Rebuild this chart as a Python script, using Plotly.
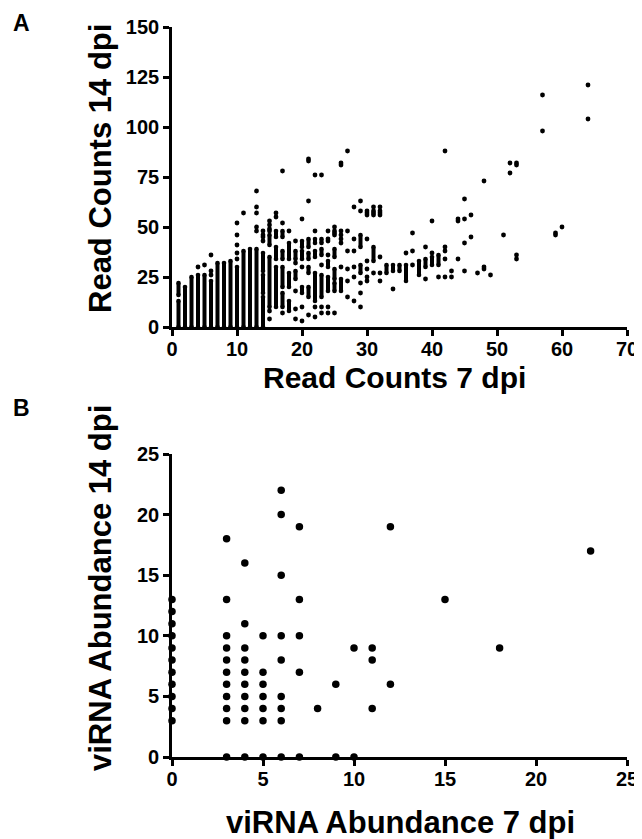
import plotly.graph_objects as go

# ---------------- Panel A data (Read counts) ----------------
# solid vertical runs of stacked integer-valued points: x, low, high
A_seg_x  = [1, 1, 2, 3, 4, 5, 6, 7, 8, 9, 10, 11, 12, 13, 14, 14, 14,
            15, 15, 16, 16, 16, 17, 17, 17, 17, 18, 18, 18, 19, 19, 20, 20, 20,
            21, 21, 21, 21, 22, 22, 22, 23, 23, 23, 24, 24, 25, 25, 25, 26,
            29, 29, 31, 33, 34, 35, 36, 38, 39, 40, 41]
A_seg_lo = [0, 16, 0, 0, 0, 0, 0, 0, 0, 0, 0, 0, 0, 0, 0, 17, 28,
            10, 41, 10, 34, 45, 10, 20, 34, 45, 8, 20, 34, 24, 34, 17, 34, 40,
            15, 27, 34, 40, 13, 35, 42, 15, 36, 42, 18, 30, 18, 24, 35, 18,
            40, 27, 33, 27, 28, 28, 23, 26, 30, 31, 31]
A_seg_hi = [13, 22, 20, 25, 26, 26, 23, 32, 32, 33, 30, 38, 39, 39, 15, 26, 37,
            35, 46, 30, 40, 48, 17, 30, 38, 48, 13, 27, 42, 28, 38, 20, 38, 43,
            20, 30, 37, 44, 27, 38, 44, 26, 39, 44, 25, 33, 22, 29, 39, 24,
            46, 31, 40, 31, 31, 31, 31, 33, 34, 35, 36]

# isolated points
A_pt_x = [4, 5, 6, 6, 6, 10, 10, 10, 10, 10, 11, 13, 13, 13, 13, 13,
          14, 14, 14, 14, 15, 15, 15, 15, 15, 15, 16, 16, 17, 17, 17,
          18, 19, 19, 19, 19, 19, 20, 20, 20, 20, 21, 21, 21, 21,
          22, 22, 22, 22, 23, 23, 23, 23, 24, 24, 24, 24, 24, 24,
          25, 25, 25, 25, 25, 26, 26, 26, 26, 26, 26, 26,
          27, 27, 27, 27, 27, 27, 28, 28, 28, 28, 28, 28,
          29, 29, 29, 29, 29, 30, 30, 30, 30, 30, 30, 30, 30,
          31, 31, 31, 31, 31, 32, 32, 32, 32, 32, 32, 32,
          34, 36, 37, 37, 37, 39, 39, 40, 40, 41, 42, 42, 42, 42, 42,
          43, 43, 44, 44, 44, 45, 45, 45, 45, 46, 46, 47, 48, 48, 48, 49,
          51, 52, 52, 53, 53, 53, 53, 57, 57, 59, 59, 60, 64, 64]
A_pt_y = [30, 31, 26, 28, 36, 34, 37, 41, 46, 52, 57, 48, 50, 57, 60, 68,
          43, 45, 46, 48, 48, 49, 51, 53, 4, 8, 55, 57, 52, 7, 78,
          48, 43, 4, 9, 18, 32, 10, 30, 54, 3, 63, 83, 84, 6,
          76, 10, 5, 48, 76, 7, 10, 31, 48, 43, 44, 7, 10, 36,
          46, 47, 48, 50, 7, 42, 44, 46, 48, 81, 82, 30,
          48, 38, 29, 23, 15, 88, 44, 38, 30, 25, 13, 60,
          22, 17, 10, 63, 58, 44, 33, 29, 25, 23, 56, 57, 58,
          27, 56, 57, 58, 60, 35, 27, 23, 56, 57, 58, 60,
          19, 37, 31, 38, 47, 24, 40, 37, 53, 25, 34, 25, 38, 40, 88,
          25, 28, 34, 53, 54, 28, 42, 54, 64, 45, 56, 27, 29, 30, 73, 26,
          46, 77, 82, 81, 82, 34, 36, 98, 116, 46, 47, 50, 104, 121]

A_xticks = [0, 10, 20, 30, 40, 50, 60, 70]
A_yticks = [0, 25, 50, 75, 100, 125, 150]

# ---------------- Panel B data (viRNA abundance) ----------------
B_x = [0]*11 + [3]*11 + [4]*10 + [5]*7 + [6]*9 + [7]*5 + [8] + [9]*2 + [10]*2 + [11]*3 + [12]*2 + [15, 18, 23]
B_y = [3, 4, 5, 6, 7, 8, 9, 10, 11, 12, 13,
       0, 3, 4, 5, 6, 7, 8, 9, 10, 13, 18,
       0, 3, 4, 5, 6, 7, 8, 9, 11, 16,
       0, 3, 4, 5, 6, 7, 10,
       0, 3, 4, 5, 8, 10, 15, 20, 22,
       0, 7, 10, 13, 19,
       4,
       0, 6,
       0, 9,
       4, 8, 9,
       6, 19,
       13, 9, 17]
B_ticks = [0, 5, 10, 15, 20, 25]

# ---------------- figure ----------------
W, H = 642, 839
OFF = 8  # page body margin offset of the rendered figure
FONT = "Liberation Sans, Arial, Helvetica, sans-serif"

seg_x, seg_y = [], []
for x, lo, hi in zip(A_seg_x, A_seg_lo, A_seg_hi):
    seg_x += [x, x, None]
    seg_y += [lo, hi, None]

fig = go.Figure()
fig.add_trace(go.Scatter(x=seg_x, y=seg_y, mode="lines+markers",
                         line=dict(color="black", width=4),
                         marker=dict(color="black", size=4.6),
                         cliponaxis=False, xaxis="x", yaxis="y", showlegend=False))
fig.add_trace(go.Scatter(x=A_pt_x, y=A_pt_y, mode="markers",
                         marker=dict(color="black", size=4.8),
                         cliponaxis=False, xaxis="x", yaxis="y", showlegend=False))
fig.add_trace(go.Scatter(x=B_x, y=B_y, mode="markers",
                         marker=dict(color="black", size=7.5),
                         cliponaxis=False, xaxis="x2", yaxis="y2", showlegend=False))

axis_common = dict(showline=True, linecolor="black", linewidth=2.6,
                   ticks="outside", ticklen=6, tickwidth=2.6, tickcolor="black",
                   showgrid=False, zeroline=False, automargin=False,
                   tickfont=dict(family=FONT, size=20, color="black", weight="bold"))

def px_x(p):
    return (p - OFF) / W

def px_y(p):
    return 1 - (p - OFF) / H

fig.update_layout(
    width=W, height=H, margin=dict(l=0, r=0, t=0, b=0, pad=0, autoexpand=False),
    paper_bgcolor="white", plot_bgcolor="white",
    xaxis=dict(domain=[px_x(172), px_x(627)], range=[0, 70], tickvals=A_xticks,
               anchor="y", ticklabelstandoff=-4, **axis_common),
    yaxis=dict(domain=[px_y(327), px_y(27)], range=[0, 150], tickvals=A_yticks,
               anchor="x", **axis_common),
    xaxis2=dict(domain=[px_x(172), px_x(627)], range=[0, 25], tickvals=B_ticks,
                anchor="y2", ticklabelstandoff=-4, **axis_common),
    yaxis2=dict(domain=[px_y(757), px_y(454)], range=[0, 25], tickvals=B_ticks,
                anchor="x2", **axis_common),
)

def label(text, x, y, size, angle=0, yanchor="middle"):
    fig.add_annotation(text=text, x=px_x(x), y=px_y(y), xref="paper", yref="paper",
                       showarrow=False, textangle=angle, xanchor="center", yanchor=yanchor,
                       font=dict(family=FONT, size=size, color="black", weight="bold"))

label("A", 21, 8, 23, yanchor="top")
label("B", 21, 408, 23)
label("Read Counts 14 dpi", 101, 168, 31, -90)
label("Read Counts 7 dpi", 394, 377, 30)
label("viRNA Abundance 14 dpi", 100, 588, 31, -90)
label("viRNA Abundance 7 dpi", 400, 822, 31)

fig.write_html("out.html")
